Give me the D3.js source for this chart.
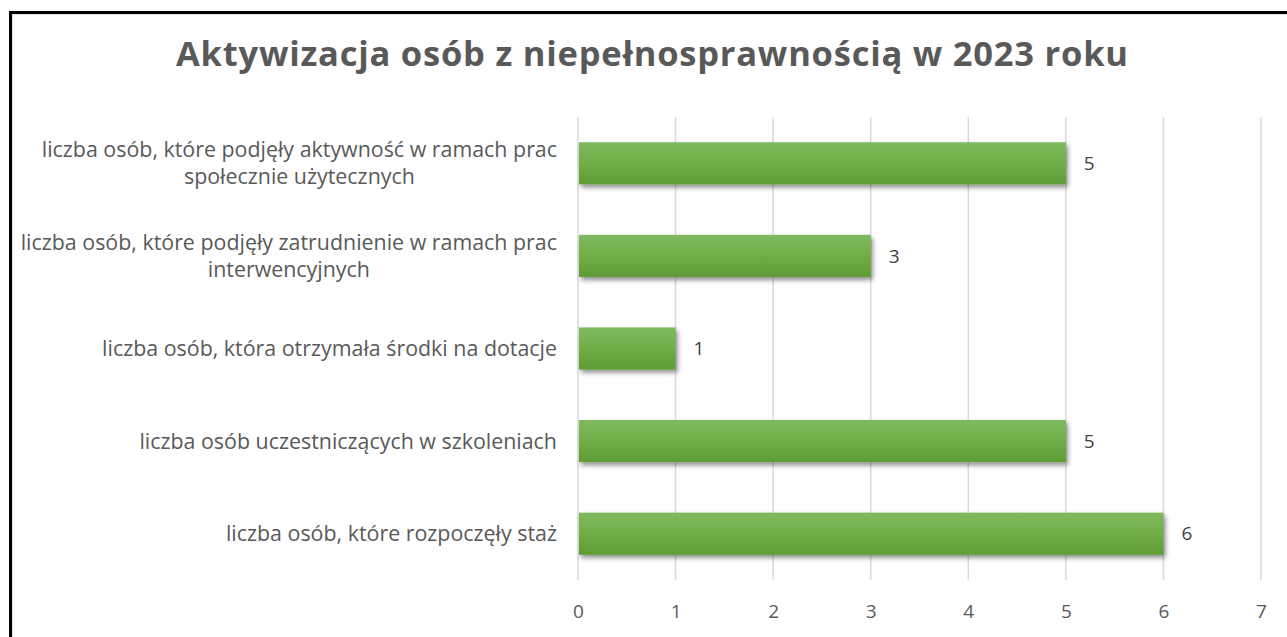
<!DOCTYPE html>
<html><head><meta charset="utf-8">
<script src="https://cdn.jsdelivr.net/npm/d3@7"></script>
<style>body{margin:0;background:#fff;}svg{display:block;}</style>
</head><body>
<script>
const categories = [
  ["liczba osób, które podjęły aktywność w ramach prac","społecznie użytecznych"],
  ["liczba osób, które podjęły zatrudnienie w ramach prac","interwencyjnych"],
  ["liczba osób, która otrzymała środki na dotacje"],
  ["liczba osób uczestniczących w szkoleniach"],
  ["liczba osób, które rozpoczęły staż"]
];
const values = [5, 3, 1, 5, 6];
const xTicks = [0,1,2,3,4,5,6,7];
const title = "Aktywizacja osób z niepełnosprawnością w 2023 roku";

const W = 1287, H = 637;
const svg = d3.select("body").append("svg").attr("width", W).attr("height", H);
const defs = svg.append("defs");
const grad = defs.append("linearGradient").attr("id","g").attr("x1",0).attr("y1",0).attr("x2",0).attr("y2",1);
grad.append("stop").attr("offset","0%").attr("stop-color","#80ba60");
grad.append("stop").attr("offset","50%").attr("stop-color","#6fae46");
grad.append("stop").attr("offset","100%").attr("stop-color","#5e9c35");
const f = defs.append("filter").attr("id","sh").attr("x","-10%").attr("y","-30%").attr("width","130%").attr("height","180%");
f.append("feDropShadow").attr("dx",2).attr("dy",3).attr("stdDeviation",2.5).attr("flood-color","#000").attr("flood-opacity",0.45);

// border
svg.append("rect").attr("x",10.5).attr("y",12.5).attr("width",W+20).attr("height",H+20)
  .attr("fill","none").attr("stroke","#000").attr("stroke-width",3);
svg.append("rect").attr("x",12.5).attr("y",14.5).attr("width",W+20).attr("height",H+20)
  .attr("fill","none").attr("stroke","#e6e6e6").attr("stroke-width",1);

const x = d3.scaleLinear().domain([0,7]).range([578, 1261]);
const y = d3.scaleBand().domain(d3.range(categories.length)).range([117, 580]).paddingInner(0.545).paddingOuter(0.2725);

// gridlines
svg.append("g").selectAll("line").data(xTicks).join("line")
  .attr("x1", d=>x(d)).attr("x2", d=>x(d)).attr("y1",117).attr("y2",580)
  .attr("stroke","#d9d9d9").attr("stroke-width",1.5);

// axis labels
const ax = svg.append("g").attr("transform","translate(0,611)")
  .call(d3.axisBottom(x).tickValues(xTicks).tickSize(0).tickPadding(0).tickFormat(d3.format("d")));
ax.select(".domain").remove();
ax.selectAll("text").attr("font-family","Open Sans").attr("font-size",19).attr("fill","#595959").attr("dy","0.35em").attr("y",0);

// bars
svg.append("g").selectAll("rect").data(values).join("rect")
  .attr("x", x(0)+1).attr("y",(d,i)=>y(i)).attr("width", d=>x(d)-x(0)-1).attr("height", y.bandwidth())
  .attr("fill","url(#g)").attr("filter","url(#sh)");

// value labels
svg.append("g").selectAll("text").data(values).join("text")
  .attr("x", d=>x(d)+18).attr("y",(d,i)=>y(i)+y.bandwidth()/2).attr("dy","0.35em")
  .attr("font-family","Open Sans").attr("font-size",19).attr("fill","#404040").text(d=>d);

// category labels
const catG = svg.append("g");
categories.forEach((lines,i)=>{
  const cy = y(i)+y.bandwidth()/2;
  const g = catG.append("g");
  const lh = 27;
  const ts = lines.map((l,j)=> g.append("text").attr("font-family","Open Sans").attr("font-size",21.4)
     .attr("fill","#595959").attr("text-anchor","middle")
     .attr("y", cy + (j-(lines.length-1)/2)*lh).attr("dy","0.35em").text(l));
  const maxW = d3.max(ts, t=>t.node().getComputedTextLength());
  ts.forEach(t=>t.attr("x", 557 - maxW/2));
});

// title
svg.append("text").attr("x",652).attr("y",66).attr("text-anchor","middle")
  .attr("font-family","Open Sans").attr("font-weight","bold").attr("font-size",34.5)
  .attr("textLength",952).attr("lengthAdjust","spacing")
  .attr("fill","#595959").text(title);
</script>
</body></html>
